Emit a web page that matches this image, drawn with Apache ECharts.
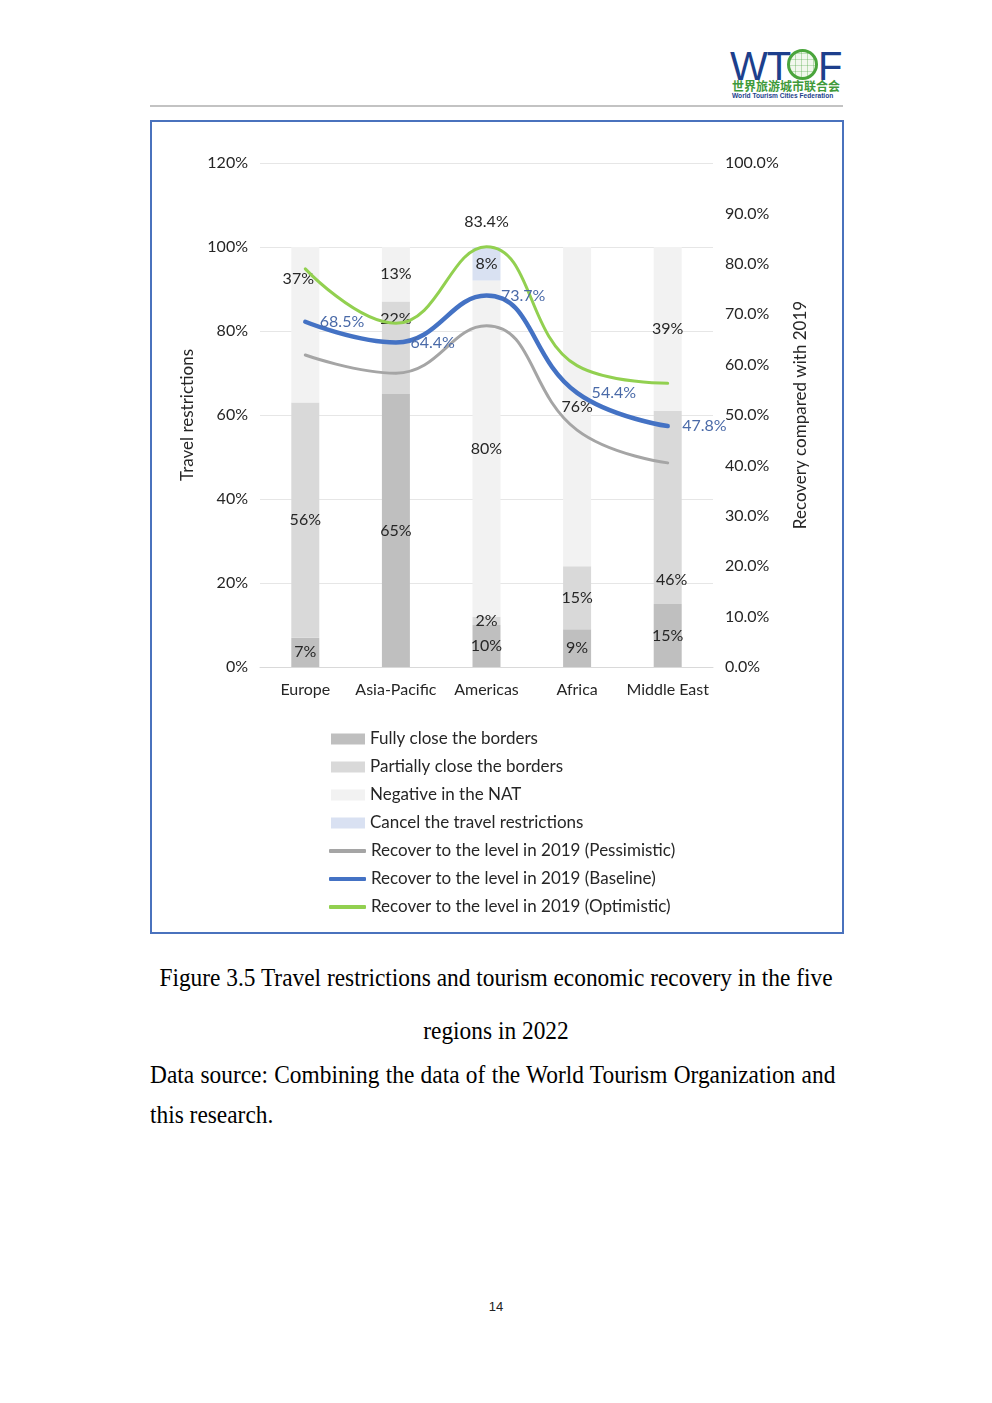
<!DOCTYPE html>
<html>
<head>
<meta charset="utf-8">
<script src="https://cdn.jsdelivr.net/npm/echarts@6/dist/echarts.min.js"></script>
<style>
  html, body { margin:0; padding:0; background:#fff; }
  body { width:992px; height:1403px; position:relative; overflow:hidden; }
  #logo { position:absolute; left:730px; top:44px; width:115px; height:56px; }
  #logo .big { position:absolute; top:2px; font-family:"Liberation Sans", Arial, sans-serif; font-size:40px; color:#1d3f8c; line-height:40px; letter-spacing:-1px; }
  #logo .globe { position:absolute; left:57px; top:5px; width:31px; height:31px; border:3px solid #4aa53c; border-radius:50%; box-sizing:border-box;
     background: repeating-linear-gradient(90deg, transparent 0 5px, rgba(74,165,60,0.35) 5px 6px), repeating-linear-gradient(0deg, #f2f8ee 0 5px, rgba(74,165,60,0.35) 5px 6px); }
  #logo .cn { position:absolute; left:2px; top:36px; font-family:"Noto Sans CJK SC", sans-serif; font-size:12px; font-weight:700; color:#3f9a3a; line-height:12px; }
  #logo .en { position:absolute; left:2px; top:48px; font-family:"Liberation Sans", sans-serif; font-size:6.6px; font-weight:700; color:#1d3f8c; white-space:nowrap; line-height:7px; }
  #rule { position:absolute; left:150px; top:105px; width:693px; height:2px; background:#c3c3c3; }
  #frame { position:absolute; left:150px; top:120px; width:694px; height:814px; border:2px solid #4a72bd; box-sizing:border-box; }
  #chart { position:absolute; left:151px; top:121px; width:692px; height:812px; }
  .cap { position:absolute; font-family:"Liberation Serif", "Times New Roman", serif; font-size:25px; color:#000; transform:scaleX(0.935); }
  #cap1 { left:0; width:992px; top:962px; text-align:center; line-height:32px; white-space:nowrap; transform-origin:496px 0; }
  #cap2 { left:0; width:992px; top:1015px; text-align:center; line-height:32px; transform-origin:496px 0; }
  #src { left:150px; width:733px; top:1055px; line-height:40px; text-align:justify; transform-origin:0 0; }
  #pnum { position:absolute; left:0; width:992px; top:1299px; text-align:center; font-family:"Liberation Sans", sans-serif; font-size:13px; color:#222; }
</style>
</head>
<body>
<div id="logo">
  <div class="big" style="left:0px;">WT</div>
  <div class="globe"></div>
  <div class="big" style="left:88px;">F</div>
  <div class="cn">世界旅游城市联合会</div>
  <div class="en">World Tourism Cities Federation</div>
</div>
<div id="rule"></div>
<div id="frame"></div>
<div id="chart"></div>
<div class="cap" id="cap1">Figure 3.5 Travel restrictions and tourism economic recovery in the five</div>
<div class="cap" id="cap2">regions in 2022</div>
<div class="cap" id="src">Data source: Combining the data of the World Tourism Organization and this research.</div>
<div id="pnum">14</div>
<script>
// ---- data ----
const categories = ['Europe', 'Asia-Pacific', 'Americas', 'Africa', 'Middle East'];
const fullyClose = [7, 65, 10, 9, 15];
const partiallyClose = [56, 22, 2, 15, 46];
const negativeNAT = [37, 13, 80, 76, 39];
const cancelRestrictions = [0, 0, 8, 0, 0];
const recoveryPessimistic = [61.9, 58.3, 67.7, 47.0, 40.5];
const recoveryBaseline = [68.5, 64.4, 73.7, 54.4, 47.8];
const recoveryOptimistic = [79.0, 68.2, 83.4, 59.8, 56.3];
const leftTicks = { min: 0, max: 120, interval: 20 };
const rightTicks = { min: 0, max: 100, interval: 10 };

// ---- presentation ----
const FONT = 'Lato';
const TXT = '#262626';
// manual label nudges (Excel labels moved by hand)
const labelNudge = {
  'Negative in the NAT': { 0: [-7, -46] },
  'Partially close the borders': { 1: [0, -29], 4: [4, 72] }
};

function barData(name, arr) {
  return arr.map((v, i) => {
    const n = labelNudge[name] && labelNudge[name][i];
    return n ? { value: v, label: { offset: n } } : v;
  });
}
function barSeries(name, arr, color) {
  return {
    name: name, type: 'bar', stack: 'r', yAxisIndex: 0, barWidth: 28,
    itemStyle: { color: color },
    label: {
      show: true, position: 'inside', color: TXT, fontFamily: FONT, fontSize: 16,
      formatter: p => (p.value > 0 ? p.value + '%' : '')
    },
    data: barData(name, arr)
  };
}
function lineSeries(name, arr, color, width, extra) {
  return Object.assign({
    name: name, type: 'line', yAxisIndex: 1, smooth: 0.45,
    symbol: 'circle', symbolSize: 1, showSymbol: true, z: 5,
    lineStyle: { color: color, width: width, cap: 'round' },
    itemStyle: { color: color },
    data: arr
  }, extra || {});
}

const legendText = { color: TXT, fontFamily: FONT, fontSize: 17, lineHeight: 20 };

const chart = echarts.init(document.getElementById('chart'), null, { renderer: 'canvas' });
chart.setOption({
  animation: false,
  backgroundColor: 'transparent',
  textStyle: { fontFamily: FONT },
  grid: { left: 109, top: 42, width: 453, height: 504 },
  legend: [
    {
      orient: 'vertical', left: 175, top: 603, itemWidth: 34, itemHeight: 11, itemGap: 8,
      textStyle: legendText, icon: 'rect',
      data: ['Fully close the borders', 'Partially close the borders',
             'Negative in the NAT', 'Cancel the travel restrictions']
    },
    {
      orient: 'vertical', left: 173, top: 715, itemWidth: 37, itemHeight: 4, itemGap: 8,
      textStyle: legendText, icon: 'roundRect',
      data: ['Recover to the level in 2019 (Pessimistic)',
             'Recover to the level in 2019 (Baseline)',
             'Recover to the level in 2019 (Optimistic)']
    }
  ],
  xAxis: {
    type: 'category', data: categories,
    axisLine: { lineStyle: { color: '#d9d9d9', width: 1 } },
    axisTick: { show: false },
    axisLabel: { color: TXT, fontFamily: FONT, fontSize: 16, margin: 15, interval: 0 }
  },
  yAxis: [
    {
      type: 'value', min: leftTicks.min, max: leftTicks.max, interval: leftTicks.interval,
      name: 'Travel restrictions', nameLocation: 'middle', nameGap: 64, nameRotate: 90,
      nameTextStyle: { color: TXT, fontFamily: FONT, fontSize: 17 },
      axisLine: { show: false }, axisTick: { show: false },
      axisLabel: { color: TXT, fontFamily: FONT, fontSize: 16, margin: 12, formatter: '{value}%' },
      splitLine: { lineStyle: { color: '#e6e6e6', width: 1 } }
    },
    {
      type: 'value', position: 'right', min: rightTicks.min, max: rightTicks.max, interval: rightTicks.interval,
      name: 'Recovery compared with 2019', nameLocation: 'middle', nameGap: 79, nameRotate: 90,
      nameTextStyle: { color: TXT, fontFamily: FONT, fontSize: 17 },
      axisLine: { show: false }, axisTick: { show: false },
      axisLabel: { color: TXT, fontFamily: FONT, fontSize: 16, margin: 12, formatter: v => v.toFixed(1) + '%' },
      splitLine: { show: false }
    }
  ],
  series: [
    barSeries('Fully close the borders', fullyClose, '#bfbfbf'),
    barSeries('Partially close the borders', partiallyClose, '#d9d9d9'),
    barSeries('Negative in the NAT', negativeNAT, '#f2f2f2'),
    barSeries('Cancel the travel restrictions', cancelRestrictions, '#d9e1f2'),
    lineSeries('Recover to the level in 2019 (Pessimistic)', recoveryPessimistic, '#a5a5a5', 3),
    lineSeries('Recover to the level in 2019 (Baseline)', recoveryBaseline, '#4472c4', 4.5, {
      label: { show: true, position: 'right', distance: 14, color: '#4a6aa8', fontFamily: FONT, fontSize: 16,
               formatter: p => p.value.toFixed(1) + '%' }
    }),
    lineSeries('Recover to the level in 2019 (Optimistic)', recoveryOptimistic, '#92d050', 3, {
      label: { show: true, position: 'top', distance: 16, color: TXT, fontFamily: FONT, fontSize: 16,
               formatter: p => (p.dataIndex === 2 ? p.value.toFixed(1) + '%' : '') }
    })
  ]
});
</script>
</body>
</html>
